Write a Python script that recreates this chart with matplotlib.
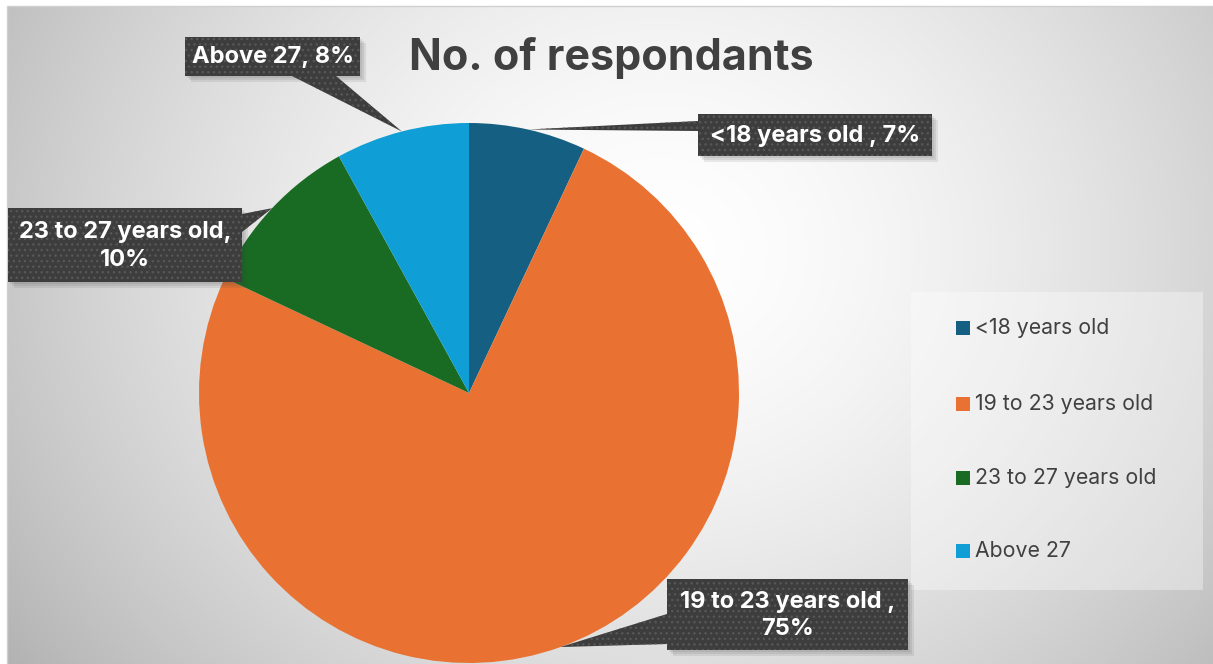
import numpy as np
import matplotlib
matplotlib.use('Agg')
import matplotlib.pyplot as plt
from matplotlib.patches import Rectangle, Polygon

# ---------------- data ----------------
categories = ['<18 years old', '19 to 23 years old', '23 to 27 years old', 'Above 27']
values = [7, 75, 10, 8]
label_texts = ['<18 years old , 7%', '19 to 23 years old ,\n75%',
               '23 to 27 years old,\n10%', 'Above 27, 8%']
colors = ['#156082', '#E97132', '#196B24', '#0F9ED5']
title = 'No. of respondants'

# ---------------- layout ----------------
W, H = 1213, 664
FONT = ['Inter', 'DejaVu Sans']
plt.rcParams['font.family'] = FONT
plt.rcParams['hatch.linewidth'] = 1.0

fig = plt.figure(figsize=(W / 100, H / 100), dpi=100)
fig.patch.set_facecolor('white')
ax = fig.add_axes([0, 0, 1, 1])


def P(x, y):
    """pixel (y down) -> data coords"""
    return (x, H - y)


# background radial gradient (chart area)
x_left, y_top = 7, 6
yy, xx = np.mgrid[0:H - y_top, 0:W - x_left]
xx = xx + x_left
yy = yy + y_top
r = np.sqrt((xx - 660.0) ** 2 + ((yy - 250.0) * 1.15) ** 2)
v = 1.0 - 0.25 * np.clip(r / 720.0, 0, 1.3) ** 1.6
img = np.dstack([v, v, v])
ax.imshow(img, extent=(x_left, W, 0, H - y_top), origin='upper', zorder=0,
          interpolation='bilinear')
ax.plot([x_left, x_left, W], [0, H - y_top, H - y_top], color='#d0d0d0', lw=1, zorder=1)

# pie
pc = P(469, 393)
R = 270
wedges, _ = ax.pie(values, colors=colors, startangle=90, counterclock=False,
                   center=pc, radius=R, wedgeprops=dict(linewidth=0, zorder=2))
ax.set_xlim(0, W)
ax.set_ylim(0, H)
ax.set_aspect('auto')
ax.axis('off')

# title
ax.text(*P(611, 58), title, ha='center', va='center', fontsize=31,
        fontweight='bold', color='#404040', zorder=6)

# callout boxes (pixel coords x0, y0, x1, y1) and tail bases
boxes = [(698, 114, 932, 156), (667, 579, 908, 650), (8, 208, 242, 282), (185, 37, 360, 76)]
bases = [((698, 121), (698, 131)), ((667, 614), (667, 644)),
         ((242, 214), (242, 232)), ((292, 76), (336, 76))]
BOXC = '#3d3d3d'
DOTC = '#575757'

for i, w in enumerate(wedges):
    x0, y0, x1, y1 = boxes[i]
    # shadow
    for k, a in enumerate([0.10, 0.10, 0.10]):
        off = 2 + 2 * k
        ax.add_patch(Rectangle(P(x0 + off, y1 + off), x1 - x0, y1 - y0,
                               facecolor='#404040', alpha=a, lw=0, zorder=3))
    # tail to the middle of wedge arc
    th = np.deg2rad((w.theta1 + w.theta2) / 2)
    tip = (pc[0] + R * np.cos(th), pc[1] + R * np.sin(th))
    b1, b2 = bases[i]
    ax.add_patch(Polygon([P(*b1), P(*b2), tip], closed=True, facecolor=BOXC,
                         edgecolor=DOTC, hatch='...', lw=0, zorder=4))
    ax.add_patch(Rectangle(P(x0, y1), x1 - x0, y1 - y0, facecolor=BOXC,
                           edgecolor=DOTC, hatch='...', lw=0, zorder=5))
    ax.text(*P((x0 + x1) / 2, (y0 + y1) / 2 + 1), label_texts[i], ha='center',
            va='center', fontsize=17, fontweight='bold', color='white',
            linespacing=1.35, zorder=6)

# legend
ax.add_patch(Rectangle(P(911, 590), 1203 - 911, 590 - 292, facecolor='white',
                       alpha=0.35, lw=0, zorder=2))
leg_y = [328, 404, 478, 551]
for i, cat in enumerate(categories):
    ax.add_patch(Rectangle(P(956, leg_y[i] + 7), 14, 14, facecolor=colors[i],
                           lw=0, zorder=5))
    ax.text(*P(975, leg_y[i]), cat, ha='left', va='center', fontsize=15.3,
            color='#404040', zorder=6)

fig.savefig('out.png', dpi=100)
